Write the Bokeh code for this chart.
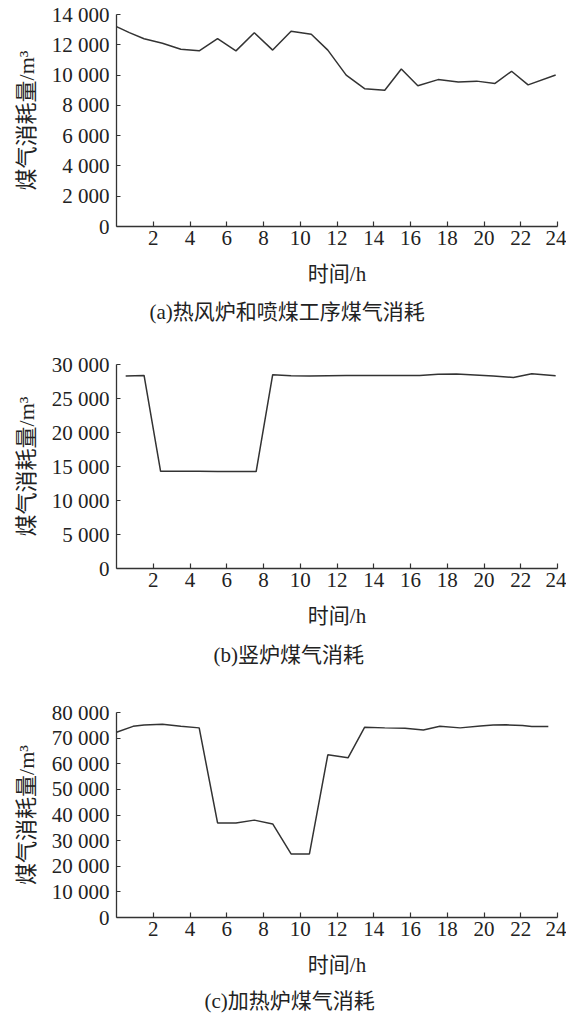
from bokeh.plotting import figure
from bokeh.models import FixedTicker, Title, Range1d
from bokeh.layouts import column
from bokeh.embed import file_html
from bokeh.resources import INLINE

# ---------------- data ----------------
hours_a = [0.0, 0.7, 1.5, 2.5, 3.5, 4.5, 5.5, 6.5, 7.5, 8.5, 9.5, 10.6, 11.5,
           12.5, 13.5, 14.6, 15.5, 16.4, 17.5, 18.6, 19.6, 20.6, 21.5, 22.4, 23.9]
gas_a = [13200, 12800, 12400, 12100, 11700, 11600, 12400, 11600, 12800, 11650,
         12900, 12700, 11650, 10000, 9100, 9000, 10400, 9300, 9700, 9550, 9600,
         9450, 10250, 9350, 10000]

hours_b = [0.5, 1.5, 2.4, 3.5, 4.5, 5.5, 6.5, 7.6, 8.5, 9.5, 10.5, 11.5, 12.5,
           13.5, 14.5, 15.5, 16.5, 17.5, 18.5, 19.5, 20.5, 21.6, 22.6, 23.9]
gas_b = [28300, 28400, 14300, 14300, 14300, 14250, 14250, 14250, 28500, 28350,
         28300, 28350, 28380, 28380, 28380, 28380, 28400, 28550, 28600, 28450,
         28300, 28100, 28650, 28350]

hours_c = [0.0, 0.9, 1.5, 2.5, 3.5, 4.5, 5.5, 6.5, 7.5, 8.5, 9.5, 10.5, 11.5,
           12.6, 13.5, 14.6, 15.7, 16.7, 17.6, 18.7, 19.8, 20.5, 21.2, 22.1, 22.6, 23.5]
gas_c = [72300, 74600, 75100, 75400, 74600, 74000, 36900, 36900, 38000, 36500,
         24800, 24800, 63500, 62300, 74200, 74000, 73900, 73200, 74600, 74000,
         74700, 75100, 75200, 74900, 74500, 74500]

x_ticks = [2, 4, 6, 8, 10, 12, 14, 16, 18, 20, 22, 24]

y_ticks_a = [0, 2000, 4000, 6000, 8000, 10000, 12000, 14000]
y_labels_a = ["0", "2 000", "4 000", "6 000", "8 000", "10 000", "12 000", "14 000"]
y_ticks_b = [0, 5000, 10000, 15000, 20000, 25000, 30000]
y_labels_b = ["0", "5 000", "10 000", "15 000", "20 000", "25 000", "30 000"]
y_ticks_c = [0, 10000, 20000, 30000, 40000, 50000, 60000, 70000, 80000]
y_labels_c = ["0", "10 000", "20 000", "30 000", "40 000", "50 000", "60 000",
              "70 000", "80 000"]

x_title = "时间/h"
y_title = "煤气消耗量/m³"
captions = ["(a)热风炉和喷煤工序煤气消耗", "(b)竖炉煤气消耗", "(c)加热炉煤气消耗"]

FONT = "Liberation Serif, Noto Sans CJK SC"
INK = "#333333"
TXT = "#222222"


def panel(xs, ys, yticks, ylabels, ymax, caption, cap_offset, cap_standoff,
          width, height, left, right, top, bottom):
    p = figure(width=width, height=height, x_range=Range1d(0, 24),
               y_range=Range1d(0, ymax), output_backend="svg",
               toolbar_location=None, min_border_left=left,
               min_border_right=right, min_border_top=top,
               min_border_bottom=bottom)
    p.line(xs, ys, line_color="#333333", line_width=1.5)
    p.outline_line_color = None
    p.xgrid.visible = False
    p.ygrid.visible = False
    p.background_fill_color = "white"
    p.border_fill_color = "white"

    xa = p.xaxis[0]
    xa.ticker = FixedTicker(ticks=x_ticks)
    xa.minor_tick_line_color = None
    xa.major_tick_in = 5
    xa.major_tick_out = 0
    xa.axis_line_color = INK
    xa.axis_line_width = 1.3
    xa.major_tick_line_color = INK
    xa.major_tick_line_width = 1.2
    xa.major_label_text_font = FONT
    xa.major_label_text_font_size = "21px"
    xa.major_label_text_color = TXT
    xa.major_label_standoff = 4
    xa.axis_label = x_title
    xa.axis_label_text_font = FONT
    xa.axis_label_text_font_size = "21px"
    xa.axis_label_text_font_style = "normal"
    xa.axis_label_text_color = TXT
    xa.axis_label_standoff = 14

    ya = p.yaxis[0]
    ya.ticker = FixedTicker(ticks=yticks)
    ya.major_label_overrides = {t: l for t, l in zip(yticks, ylabels)}
    ya.minor_tick_line_color = None
    ya.major_tick_in = 4
    ya.major_tick_out = 0
    ya.axis_line_color = INK
    ya.axis_line_width = 1.3
    ya.major_tick_line_color = INK
    ya.major_tick_line_width = 1.2
    ya.major_label_text_font = FONT
    ya.major_label_text_font_size = "21px"
    ya.major_label_text_color = TXT
    ya.major_label_standoff = 7
    ya.axis_label = y_title
    ya.axis_label_text_font = FONT
    ya.axis_label_text_font_size = "22px"
    ya.axis_label_text_font_style = "normal"
    ya.axis_label_text_color = TXT
    ya.axis_label_standoff = 10

    t = Title(text=caption, align="left", offset=cap_offset, text_font=FONT,
              text_font_size="21px", text_font_style="normal",
              text_color=TXT, standoff=cap_standoff)
    p.add_layout(t, "below")
    return p


pa = panel(hours_a, gas_a, y_ticks_a, y_labels_a, 14000, captions[0], 33, 18,
           566, 340, 115, 9, 14, 114)
pb = panel(hours_b, gas_b, y_ticks_b, y_labels_b, 30000, captions[1], 97, 20,
           566, 350, 114, 9, 24, 122)
pc = panel(hours_c, gas_c, y_ticks_c, y_labels_c, 80000, captions[2], 88, 14,
           566, 329, 116, 4, 22, 100)

layout = column(pa, pb, pc, spacing=0)
open("out.html", "w").write(file_html(layout, INLINE))
